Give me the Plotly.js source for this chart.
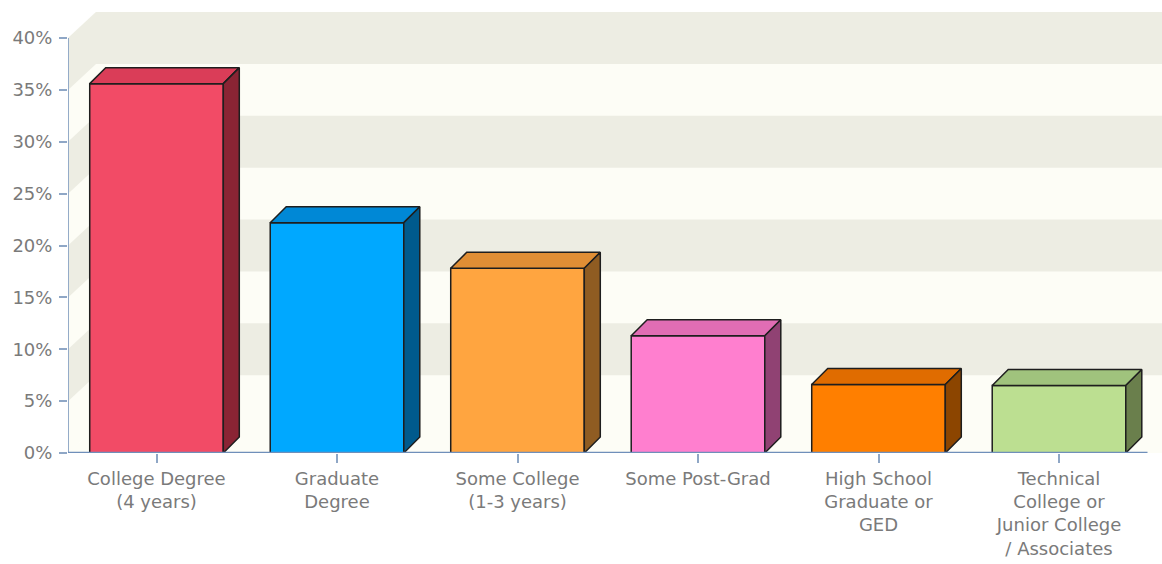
<!DOCTYPE html>
<html><head><meta charset="utf-8">
<script src="https://cdn.plot.ly/plotly-3.0.1.min.js"></script>
<style>html,body{margin:0;padding:0;background:#fff}#chart{width:1162px;height:564px}</style>
</head><body><div id="chart"></div>
<script>
// ---- data ----
const categories = ["College Degree<br>(4 years)", "Graduate<br>Degree", "Some College<br>(1-3 years)", "Some Post-Grad", "High School<br>Graduate or<br>GED", "Technical<br>College or<br>Junior College<br>/ Associates"];
const values = [35.6, 22.2, 17.8, 11.3, 6.6, 6.5];
const frontColors = ["#F24B66", "#00A8FF", "#FFA540", "#FF7FCF", "#FF7F00", "#BCDF91"];
const topColors   = ["#DA3D58", "#0088D6", "#E08E35", "#E16DB4", "#E06C00", "#A0C37D"];
const sideColors  = ["#8A2434", "#005A8D", "#8F5C22", "#904273", "#8C4500", "#6A7F4C"];
const yTickValues = [0, 5, 10, 15, 20, 25, 30, 35, 40];
const yTickLabels = ["0%", "5%", "10%", "15%", "20%", "25%", "30%", "35%", "40%"];

// ---- layout constants ----
const W = 1162, H = 564;
const M = {l: 68, r: 0, t: 12, b: 111};
const plotW = W - M.l - M.r, plotH = H - M.t - M.b;
const catPx = 180.5, firstCenterPx = 156.5;
const xr0 = -(firstCenterPx - M.l) / catPx;
const xr1 = xr0 + plotW / catPx;
const wallDxPx = 28, wallDyPx = 26, barDepthPx = 16;
const yMaxTick = yTickValues[yTickValues.length - 1];
const yr1 = yMaxTick * plotH / (plotH - wallDyPx);
const ux = 1 / catPx, uy = yr1 / plotH;
const wdx = wallDxPx * ux, wdy = wallDyPx * uy;
const bdx = barDepthPx * ux, bdy = barDepthPx * uy;
const barW = 0.74;
const xAxisEnd = (categories.length - 1) - xr0;
const grey = "#EDEDE3", cream = "#FDFDF6";
const outline = "#1E1E1E";

const idx = categories.map((_, i) => i);

// walls (shapes, below)
const shapes = [];
shapes.push({type: "rect", layer: "below", xref: "x", yref: "y", x0: xr0 + wdx, x1: xr1, y0: wdy, y1: yMaxTick + wdy, fillcolor: cream, line: {width: 0}});
shapes.push({type: "path", layer: "below", xref: "x", yref: "y",
  path: `M ${xr0},0 L ${xr0 + wdx},${wdy} L ${xr0 + wdx},${yMaxTick + wdy} L ${xr0},${yMaxTick} Z`, fillcolor: cream, line: {width: 0}});
shapes.push({type: "path", layer: "below", xref: "x", yref: "y",
  path: `M ${xr0},0 L ${xr0 + wdx},${wdy} L ${xr1},${wdy} L ${xr1},0 Z`, fillcolor: cream, line: {width: 0}});
for (let k = 0; k < yTickValues.length - 1; k++) {
  if (k % 2 === 1) {
    const a = yTickValues[k], b = yTickValues[k + 1];
    shapes.push({type: "rect", layer: "below", xref: "x", yref: "y", x0: xr0 + wdx, x1: xr1, y0: a + wdy, y1: b + wdy, fillcolor: grey, line: {width: 0}});
    shapes.push({type: "path", layer: "below", xref: "x", yref: "y",
      path: `M ${xr0},${a} L ${xr0 + wdx},${a + wdy} L ${xr0 + wdx},${b + wdy} L ${xr0},${b} Z`, fillcolor: grey, line: {width: 0}});
  }
}

const traces = [];
traces.push({type: "bar", x: idx, y: values, width: barW, hoverinfo: "skip",
  marker: {color: frontColors, line: {color: outline, width: 1.5}}});
idx.forEach(i => {
  const xl = i - barW / 2, xr = i + barW / 2, v = values[i];
  traces.push({type: "scatter", mode: "lines", hoverinfo: "skip", fill: "toself", fillcolor: topColors[i],
    line: {color: outline, width: 1.5},
    x: [xl, xl + bdx, xr + bdx, xr, xl], y: [v, v + bdy, v + bdy, v, v]});
  traces.push({type: "scatter", mode: "lines", hoverinfo: "skip", fill: "toself", fillcolor: sideColors[i],
    line: {color: outline, width: 1.5},
    x: [xr, xr + bdx, xr + bdx, xr, xr], y: [0, bdy, v + bdy, v, 0]});
});
// axis lines
traces.push({type: "scatter", mode: "lines", hoverinfo: "skip", cliponaxis: false,
  line: {color: "#94ABC8", width: 2}, x: [xr0, xr0], y: [0, yMaxTick]});
traces.push({type: "scatter", mode: "lines", hoverinfo: "skip", cliponaxis: false,
  line: {color: "#6F8FBA", width: 2.5}, x: [xr0, xAxisEnd], y: [0, 0]});

const font = {family: "DejaVu Sans, Verdana, sans-serif", size: 18, color: "#7A7A7A"};
const layout = {
  width: W, height: H, margin: M, showlegend: false,
  paper_bgcolor: "#FFFFFF", plot_bgcolor: "#FFFFFF",
  font: font,
  xaxis: {range: [xr0, xr1], tickvals: idx, ticktext: categories, showgrid: false, zeroline: false, showline: false,
    ticks: "outside", ticklen: 9, tickwidth: 2, tickcolor: "#8FA7C6", tickfont: font, fixedrange: true},
  yaxis: {range: [0, yr1], tickvals: yTickValues, ticktext: yTickLabels, showgrid: false, zeroline: false, showline: false,
    ticks: "outside", ticklen: 8, tickwidth: 2, tickcolor: "#8FA7C6", tickfont: font, fixedrange: true, ticklabelstandoff: 3},
  shapes: shapes
};
Plotly.newPlot("chart", traces, layout, {displayModeBar: false, staticPlot: true});
</script></body></html>
